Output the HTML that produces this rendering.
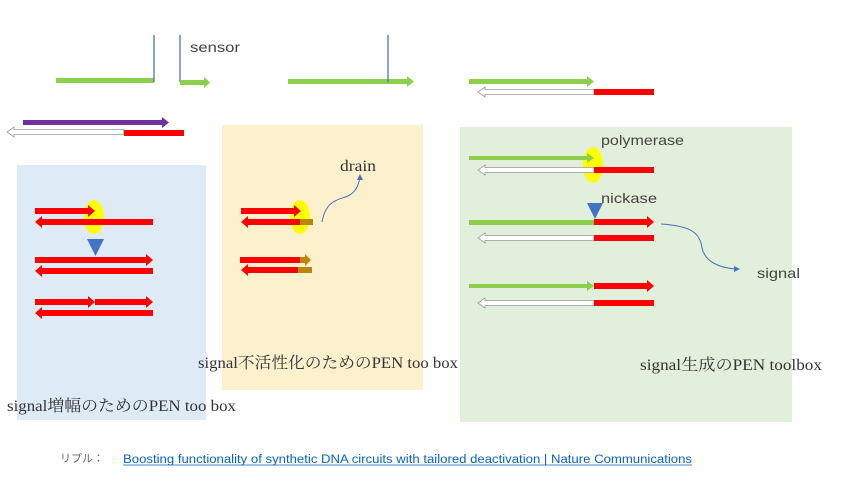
<!DOCTYPE html>
<html><head><meta charset="utf-8"><style>
body{margin:0;background:#fff;width:853px;height:480px;overflow:hidden}
svg{display:block}
.s{font-family:"Liberation Serif","Noto Serif CJK SC",serif;font-size:16px;fill:#333}
.a{font-family:"Liberation Sans","Noto Sans CJK JP",sans-serif;font-size:14px;fill:#444}
</style></head><body>
<svg width="853" height="480" viewBox="0 0 853 480">
<!-- boxes -->
<rect x="17" y="165" width="189" height="255" fill="#deebf7"/>
<rect x="222" y="125" width="201" height="265" fill="#fdf0cd"/>
<rect x="460" y="127" width="332" height="295" fill="#e2efda"/>

<!-- top row -->
<rect x="56" y="78" width="98" height="5" fill="#8ccf4d"/>
<line x1="154" y1="35" x2="154" y2="82" stroke="#4472c4" stroke-width="1.3"/>
<line x1="180" y1="35" x2="180" y2="82" stroke="#4472c4" stroke-width="1.3"/>
<path d="M180 80H204V77L210 82.5L204 88V85H180Z" fill="#8ccf4d"/>
<text x="190" y="52" class="a" textLength="50" lengthAdjust="spacingAndGlyphs">sensor</text>
<path d="M288 79H407V76L414 81.5L407 87V84H288Z" fill="#8ccf4d"/>
<line x1="388" y1="35" x2="388" y2="82" stroke="#4472c4" stroke-width="1.3"/>
<path d="M469 79H587V76L594 81.5L587 87V84H469Z" fill="#8ccf4d"/>
<path d="M594 89.5H485V87L478 92L485 97V94.5H594Z" fill="#fff" stroke="#999" stroke-width="0.8"/>
<rect x="594" y="89" width="60" height="6" fill="#f00"/>

<path d="M23 120H162V117L169 122.5L162 128V125H23Z" fill="#7030a0"/>
<path d="M124 129.5H14V127L7 132L14 137V134.5H124Z" fill="#fff" stroke="#999" stroke-width="0.8"/>
<rect x="124" y="130" width="60" height="6" fill="#f00"/>

<!-- blue box -->
<ellipse cx="94" cy="217" rx="10" ry="17" fill="#ffff00"/>
<path d="M35 208H88V205L95 211L88 217V214H35Z" fill="#f00"/>
<path d="M153 219H42V216L35 222L42 228V225H153Z" fill="#f00"/>
<path d="M87 239H104L95.5 256Z" fill="#4472c4"/>
<path d="M35 257H146V254L153 260L146 266V263H35Z" fill="#f00"/>
<path d="M153 268H42V265L35 271L42 277V274H153Z" fill="#f00"/>
<path d="M35 299H88V296L95 302L88 308V305H35Z" fill="#f00"/>
<path d="M95 299H146V296L153 302L146 308V305H95Z" fill="#f00"/>
<path d="M153 310H42V307L35 313L42 319V316H153Z" fill="#f00"/>
<text x="7" y="411" class="s" textLength="229" lengthAdjust="spacingAndGlyphs">signal増幅のためのPEN too box</text>

<!-- yellow box -->
<ellipse cx="300" cy="217" rx="10" ry="17" fill="#ffff00"/>
<path d="M241 208H294V205L301 211L294 217V214H241Z" fill="#f00"/>
<path d="M300 219H248V216L241 222L248 228V225H300Z" fill="#f00"/>
<rect x="300" y="219" width="13" height="6" fill="#b8860b"/>
<path d="M322 222C326 200 338 200 348 196C356 192 358 186 360 178" fill="none" stroke="#4472c4" stroke-width="1"/>
<path d="M357 180L360 174L363 180Z" fill="#4472c4"/>
<text x="340" y="171" class="s" textLength="36" lengthAdjust="spacingAndGlyphs">drain</text>
<path d="M240 257H300V263H240Z" fill="#f00"/>
<path d="M300 257H305V254L311 260L305 266V263H300Z" fill="#b8860b"/>
<path d="M298 267H248V264L241 270L248 276V273H298Z" fill="#f00"/>
<rect x="298" y="267" width="14" height="6" fill="#b8860b"/>
<text x="198" y="368" class="s" textLength="260" lengthAdjust="spacingAndGlyphs">signal不活性化のためのPEN too box</text>

<!-- green box -->
<ellipse cx="593" cy="165" rx="10" ry="18" fill="#ffff00"/>
<path d="M469 156H587V153L594 158L587 163V160H469Z" fill="#8ccf4d"/>
<path d="M594 167.5H485V165L478 170L485 175V172.5H594Z" fill="#fff" stroke="#999" stroke-width="0.8"/>
<rect x="594" y="167" width="60" height="6" fill="#f00"/>
<text x="601" y="145" class="a" textLength="83" lengthAdjust="spacingAndGlyphs">polymerase</text>
<text x="601" y="203" class="a" textLength="56" lengthAdjust="spacingAndGlyphs">nickase</text>
<rect x="469" y="220" width="125" height="5" fill="#8ccf4d"/>
<path d="M594 219H647V216L654 222L647 228V225H594Z" fill="#f00"/>
<path d="M587 203H603L595 219Z" fill="#4472c4"/>
<path d="M594 235.5H485V233L478 238L485 243V240.5H594Z" fill="#fff" stroke="#999" stroke-width="0.8"/>
<rect x="594" y="235" width="60" height="6" fill="#f00"/>
<path d="M661 224C690 226 700 232 702 248C705 262 720 268 736 269" fill="none" stroke="#4472c4" stroke-width="1"/>
<path d="M734 266L740 269L734 272Z" fill="#4472c4"/>
<text x="757" y="278" class="a" textLength="43" lengthAdjust="spacingAndGlyphs">signal</text>
<path d="M469 284H587V281L594 286L587 291V288H469Z" fill="#8ccf4d"/>
<path d="M594 283H647V280L654 286L647 292V289H594Z" fill="#f00"/>
<path d="M594 300.5H485V298L478 303L485 308V305.5H594Z" fill="#fff" stroke="#999" stroke-width="0.8"/>
<rect x="594" y="300" width="60" height="6" fill="#f00"/>
<text x="640" y="370" class="s" textLength="182" lengthAdjust="spacingAndGlyphs">signal生成のPEN toolbox</text>

<!-- footer -->
<text x="60" y="462" font-family="Liberation Sans,Noto Sans CJK JP,sans-serif" font-size="11" fill="#666">リプル：</text>
<text x="123" y="463" font-family="Liberation Sans,Noto Sans CJK JP,sans-serif" font-size="11.5" fill="#0563c1" textLength="569" lengthAdjust="spacingAndGlyphs">Boosting functionality of synthetic DNA circuits with tailored deactivation | Nature Communications</text>
<line x1="123" y1="465" x2="692" y2="465" stroke="#0563c1" stroke-width="0.8"/>
</svg>
</body></html>
